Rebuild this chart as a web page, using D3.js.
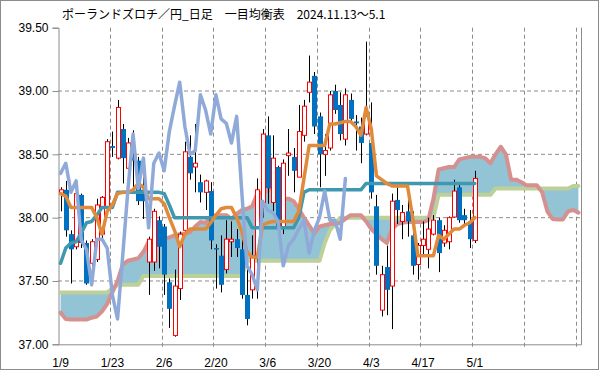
<!DOCTYPE html>
<html>
<head>
<meta charset="utf-8">
<script src="https://cdn.jsdelivr.net/npm/d3@7"></script>
<style>
  body { margin: 0; background: #fff; }
  svg { display: block; font-family: "Liberation Sans", Arial, sans-serif; }
</style>
</head>
<body>
<svg id="chart" width="599" height="370"></svg>
<script>
const title = 'ポーランドズロチ／円_日足　一目均衡表　2024.11.13～5.1';
const dateLabels = ['1/9', '1/23', '2/6', '2/20', '3/6', '3/20', '4/3', '4/17', '5/1'];
const yTicks = [37.0, 37.5, 38.0, 38.5, 39.0, 39.5];
const slotCount = 101; // 81 trading days + cloud projected ahead
const lagShift = 25;

// daily candles, 1/9 .. 5/1
const open = [
  38.19, 38.22, 37.87, 37.77, 38.18, 37.80, 37.64, 37.67, 37.87, 38.08,
  38.565, 38.47, 38.70, 38.39, 38.48, 38.45, 38.22, 37.65, 37.65, 37.98,
  37.93, 37.49, 37.07, 37.44, 37.90, 38.48, 38.40, 38.28, 38.20, 38.21,
  37.76, 37.70, 37.59, 37.81, 37.83, 37.75, 37.39, 37.43, 37.68, 38.10,
  38.65, 38.12, 38.40, 37.92, 38.49, 38.48, 38.32, 38.65, 38.99, 39.12,
  38.80, 38.50, 38.55, 39.00, 38.89, 38.62, 38.93, 38.76, 38.72, 38.66,
  38.59, 38.09, 37.27, 37.61, 37.46, 38.14, 37.97, 38.05, 37.86, 37.63,
  37.78, 37.75, 37.87, 37.98, 37.80, 37.81, 38.005, 38.24, 38.02, 37.97,
  37.82
];
const high = [
  38.24, 38.29, 37.90, 38.22, 38.19, 37.82, 37.83, 38.15, 38.17, 38.62,
  38.68, 38.93, 38.74, 38.63, 38.69, 38.48, 38.32, 37.85, 38.07, 38.01,
  37.95, 37.52, 37.59, 37.89, 38.60, 38.65, 38.74, 38.34, 38.30, 38.28,
  37.79, 37.86, 37.98, 37.97, 37.91, 37.86, 37.60, 37.86, 38.31, 38.70,
  38.80, 38.65, 38.41, 38.46, 38.70, 38.55, 38.89, 38.93, 39.28, 39.15,
  38.83, 38.66, 39.00, 39.05, 38.99, 39.02, 38.98, 38.81, 38.79, 39.39,
  38.91, 38.18, 37.62, 37.78, 38.19, 38.24, 38.10, 38.15, 38.05, 37.80,
  37.97, 38.00, 38.02, 38.00, 37.94, 38.01, 38.30, 38.28, 38.07, 38.06,
  38.37
];
const low = [
  38.05, 37.85, 37.48, 37.75, 37.76, 37.47, 37.46, 37.65, 37.80, 38.06,
  38.48, 38.46, 38.27, 38.38, 38.24, 38.10, 37.99, 37.39, 37.58, 37.60,
  37.39, 37.13, 37.06, 37.35, 37.88, 38.30, 38.20, 38.12, 38.06, 37.75,
  37.44, 37.41, 37.56, 37.69, 37.69, 37.36, 37.15, 37.36, 37.36, 38.00,
  38.11, 38.05, 37.87, 37.87, 38.33, 38.20, 38.32, 38.60, 38.91, 38.66,
  38.24, 38.33, 38.53, 38.82, 38.61, 38.57, 38.76, 38.53, 38.43, 38.65,
  38.15, 37.55, 37.22, 37.23, 37.12, 37.95, 37.83, 37.85, 37.55, 37.51,
  37.70, 37.60, 37.86, 37.57, 37.77, 37.75, 38.00, 37.96, 37.93, 37.76,
  37.80
];
const close = [
  38.22, 37.90, 37.75, 38.19, 37.80, 37.48, 37.81, 38.10, 38.16, 38.60,
  38.55, 38.87, 38.47, 38.59, 38.45, 38.13, 38.13, 37.83, 38.05, 37.77,
  37.55, 37.28, 37.46, 37.87, 38.52, 38.35, 38.43, 38.20, 38.29, 37.82,
  37.75, 37.47, 37.83, 37.83, 37.76, 37.39, 37.20, 37.70, 38.22, 38.66,
  38.23, 38.47, 37.92, 38.43, 38.51, 38.37, 38.68, 38.88, 39.07, 38.72,
  38.50, 38.53, 38.97, 38.85, 38.66, 38.97, 38.78, 38.745, 38.59, 38.80,
  38.20, 37.62, 37.55, 37.43, 38.13, 38.06, 38.04, 37.97, 37.62, 37.78,
  37.83, 37.91, 37.98, 37.72, 37.90, 38.00, 38.21, 37.98, 37.98, 37.83,
  38.31
];

// conversion line (orange) and base line (teal)
const tenkan = [
  38.19, 38.17, 38.08, 38.08, 38.08, 38.08, 38.08, 38.00, 37.87, 38.05,
  38.10, 38.19, 38.20, 38.20, 38.22, 38.27, 38.24, 38.15, 38.15, 38.15,
  38.11, 38.00, 37.90, 37.77, 37.87, 37.91, 37.91, 37.91, 37.91, 37.96,
  38.02, 38.07, 38.08, 38.08, 38.00, 37.89, 37.73, 37.69, 37.69, 37.94,
  37.96, 37.97, 37.97, 37.97, 37.97, 37.97, 38.05, 38.31, 38.57, 38.57,
  38.57, 38.57, 38.74, 38.74, 38.75, 38.76, 38.76, 38.72, 38.65, 38.87,
  38.70, 38.33, 38.30, 38.27, 38.25, 38.25, 38.25, 38.25, 38.00, 37.70,
  37.70, 37.70, 37.70, 37.86, 37.83, 37.87, 37.91, 37.91, 37.94, 37.96,
  38.00
];
const kijun = [
  37.64, 37.76, 37.80, 37.81, 37.88, 37.96, 37.97, 38.02, 38.08, 38.08,
  38.08, 38.20, 38.20, 38.20, 38.20, 38.20, 38.20, 38.20, 38.20, 38.20,
  38.19, 38.10, 38.00, 38.00, 38.00, 38.00, 38.00, 38.00, 38.00, 38.00,
  38.00, 38.00, 38.00, 38.00, 38.00, 38.00, 38.00, 37.92, 37.92, 37.92,
  37.92, 37.92, 37.92, 37.92, 37.92, 37.92, 38.00, 38.20, 38.22, 38.22,
  38.22, 38.22, 38.22, 38.22, 38.22, 38.22, 38.22, 38.22, 38.22, 38.27,
  38.27, 38.27, 38.27, 38.27, 38.27, 38.27, 38.27, 38.27, 38.27, 38.27,
  38.27, 38.27, 38.27, 38.27, 38.27, 38.27, 38.27, 38.27, 38.27, 38.27,
  38.27
];

// leading spans, already placed on the slot where they are drawn
const spanA = [
  37.25, 37.20, 37.195, 37.195, 37.195, 37.195, 37.21, 37.22, 37.26, 37.32,
  37.41, 37.50, 37.63, 37.66, 37.67, 37.68, 37.73, 37.81, 37.81, 37.815,
  37.83, 37.845, 37.86, 37.87, 37.875, 37.885, 37.93, 37.965, 37.96, 38.00,
  38.02, 38.02, 38.02, 37.99, 38.03, 38.06, 38.07, 38.09, 38.19, 38.20,
  38.21, 38.26, 38.22, 38.15, 38.15, 38.13, 38.07, 38.00, 37.94, 37.875,
  37.93, 37.94, 37.95, 37.95, 37.96, 37.99, 38.02, 38.02, 38.02, 37.97,
  37.91, 37.87, 37.83, 37.80, 37.91, 37.95, 37.96, 37.965, 37.965, 37.965,
  37.965, 37.98, 38.15, 38.38, 38.39, 38.40, 38.40, 38.46, 38.47, 38.48,
  38.48, 38.48, 38.47, 38.43, 38.50, 38.56, 38.50, 38.30, 38.30, 38.28,
  38.255, 38.255, 38.255, 38.20, 38.05, 37.99, 37.985, 37.985, 38.05, 38.06,
  38.04
];
const spanB = [
  37.41, 37.41, 37.41, 37.41, 37.41, 37.41, 37.41, 37.41, 37.41, 37.41,
  37.44, 37.47, 37.47, 37.47, 37.47, 37.47, 37.54, 37.54, 37.54, 37.54,
  37.54, 37.54, 37.54, 37.54, 37.54, 37.54, 37.54, 37.54, 37.54, 37.54,
  37.54, 37.54, 37.54, 37.54, 37.54, 37.54, 37.66, 37.66, 37.66, 37.66,
  37.66, 37.66, 37.66, 37.66, 37.66, 37.66, 37.66, 37.66, 37.66, 37.66,
  37.66, 37.80, 37.90, 37.95, 38.00, 38.00, 38.00, 38.00, 38.00, 38.00,
  38.00, 38.00, 38.00, 38.00, 38.00, 38.00, 38.00, 38.00, 38.00, 38.00,
  38.00, 38.00, 38.00, 38.18, 38.18, 38.18, 38.18, 38.18, 38.18, 38.18,
  38.18, 38.18, 38.18, 38.18, 38.23, 38.23, 38.23, 38.23, 38.23, 38.23,
  38.23, 38.23, 38.23, 38.23, 38.23, 38.23, 38.23, 38.23, 38.23, 38.25,
  38.25
];

// lagging span = closes drawn 25 slots back
const lagging = close.slice(lagShift);

const colors = {
  frame: '#8c8c8c',
  grid: '#8c8c8c',
  cloud: '#93c4d6',
  spanA: '#d4918f',
  spanB: '#bdd097',
  tenkan: '#e08a3c',
  kijun: '#3f98ad',
  lagging: '#8faad9',
  up: '#ff0000',
  down: '#0070c0',
};

const plot = { left: 58, right: 581, top: 27.7, bottom: 344.3 };

const svg = d3.select('#chart');

const x = d3.scaleBand()
  .domain(d3.range(slotCount))
  .range([plot.left, plot.right])
  .padding(0);
const cx = i => x(i) + x.bandwidth() / 2;

const y = d3.scaleLinear()
  .domain([37, 39.5])
  .range([plot.bottom, plot.top]);

// outer frame
svg.append('rect')
  .attr('x', 0.5).attr('y', 0.5)
  .attr('width', 598).attr('height', 369)
  .attr('fill', 'none')
  .attr('stroke', colors.frame);

// title
svg.append('text')
  .attr('x', 62).attr('y', 19)
  .style('font-family', '"Noto Sans CJK JP", sans-serif')
  .style('font-size', '12px')
  .attr('fill', '#000')
  .text(title);

// horizontal grid
svg.append('g')
  .selectAll('line')
  .data(yTicks.filter(t => t > 37 && t < 39.5))
  .join('line')
  .attr('x1', plot.left).attr('x2', plot.right)
  .attr('y1', d => y(d)).attr('y2', d => y(d))
  .attr('stroke', colors.grid)
  .attr('stroke-dasharray', '4,3');

// vertical grid, every 10 trading days, plus small ticks below the axis
const gridIdx = d3.range(10, slotCount, 10);
svg.append('g')
  .selectAll('line')
  .data(gridIdx)
  .join('line')
  .attr('x1', d => Math.round(x(d)) + 0.5).attr('x2', d => Math.round(x(d)) + 0.5)
  .attr('y1', plot.top).attr('y2', plot.bottom + 5)
  .attr('stroke', colors.grid)
  .attr('stroke-dasharray', '4,3');

// y axis
const yAxis = svg.append('g')
  .attr('transform', `translate(${plot.left + 0.5},0)`)
  .call(d3.axisLeft(y).tickValues(yTicks).tickFormat(d3.format('.2f')).tickSizeOuter(0).tickSize(6));
yAxis.select('.domain').attr('stroke', colors.frame);
yAxis.selectAll('.tick line').attr('stroke', colors.frame);
yAxis.selectAll('.tick text')
  .attr('x', -10)
  .style('font-size', '12px')
  .style('font-family', '"Liberation Sans", Arial, sans-serif')
  .attr('fill', '#000');

// x axis labels at category centres
const xAxis = svg.append('g')
  .attr('transform', `translate(0,${plot.bottom})`)
  .call(d3.axisBottom(x)
    .tickValues(dateLabels.map((d, i) => i * 10))
    .tickFormat((d, i) => dateLabels[i])
    .tickSize(0));
xAxis.select('.domain').remove();
xAxis.selectAll('.tick text')
  .attr('y', 14)
  .style('font-size', '12px')
  .style('font-family', '"Liberation Sans", Arial, sans-serif')
  .attr('fill', '#000');

// plot borders: bottom and right
svg.append('line')
  .attr('x1', plot.left).attr('x2', plot.right + 0.5)
  .attr('y1', plot.bottom + 0.5).attr('y2', plot.bottom + 0.5)
  .attr('stroke', colors.frame);
svg.append('line')
  .attr('x1', plot.right + 0.5).attr('x2', plot.right + 0.5)
  .attr('y1', plot.top).attr('y2', plot.bottom + 0.5)
  .attr('stroke', colors.frame);

// cloud
const cloudData = spanA.map((a, i) => ({ i, a, b: spanB[i] }));
svg.append('path')
  .datum(cloudData)
  .attr('fill', colors.cloud)
  .attr('d', d3.area()
    .x(d => cx(d.i))
    .y0(d => y(d.b))
    .y1(d => y(d.a)));

const line = d3.line()
  .x((d, i) => cx(i))
  .y(d => y(d));

function drawLine(values, color, width) {
  svg.append('path')
    .datum(values)
    .attr('fill', 'none')
    .attr('stroke', color)
    .attr('stroke-width', width)
    .attr('stroke-linejoin', 'round')
    .attr('stroke-linecap', 'round')
    .attr('d', line);
}

drawLine(spanB, colors.spanB, 4);
drawLine(spanA, colors.spanA, 4);

// candles
const candles = open.map((o, i) => ({ i, o, h: high[i], l: low[i], c: close[i] }));
const cg = svg.append('g')
  .selectAll('g')
  .data(candles)
  .join('g');

cg.append('line')
  .attr('x1', d => Math.round(cx(d.i)) + 0.5)
  .attr('x2', d => Math.round(cx(d.i)) + 0.5)
  .attr('y1', d => y(d.h))
  .attr('y2', d => y(d.l))
  .attr('stroke', '#000')
  .attr('stroke-width', 1);

cg.append('rect')
  .attr('x', d => (d.c >= d.o ? Math.round(cx(d.i)) - 1.5 : Math.round(cx(d.i)) - 2))
  .attr('y', d => y(Math.max(d.o, d.c)))
  .attr('width', d => (d.c >= d.o ? 4 : 5))
  .attr('height', d => Math.max(1.5, Math.abs(y(d.o) - y(d.c))))
  .attr('fill', d => (d.c >= d.o ? '#fff' : colors.down))
  .attr('stroke', d => (d.c >= d.o ? colors.up : 'none'))
  .attr('stroke-width', 1);

drawLine(kijun, colors.kijun, 3.5);
drawLine(tenkan, colors.tenkan, 3.5);
drawLine(lagging, colors.lagging, 3.5);
</script>
</body>
</html>
